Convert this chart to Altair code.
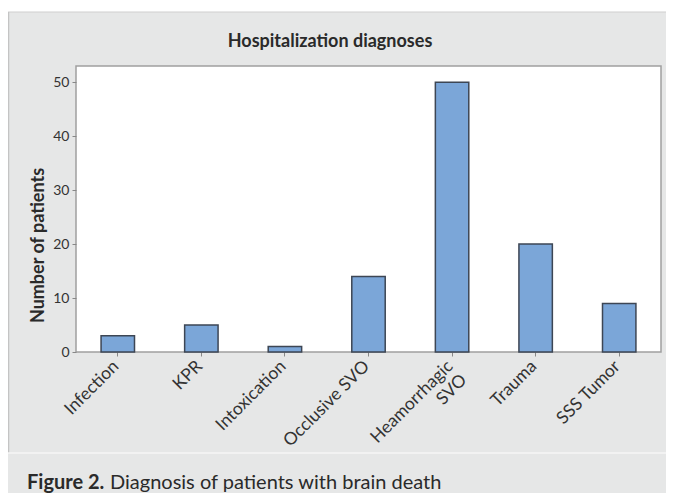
import altair as alt
import pandas as pd

categories = ["Infection", "KPR", "Intoxication", "Occlusive SVO",
              "Heamorrhagic SVO", "Trauma", "SSS Tumor"]
patients = [3, 5, 1, 14, 50, 20, 9]
y_ticks = [0, 10, 20, 30, 40, 50]
chart_title = ["Hospitalization diagnoses"]
y_title = "Number of patients"
caption_bold = ["Figure 2."]
caption_text = ["Diagnosis of patients with brain death"]

df = pd.DataFrame({"diagnosis": categories, "patients": patients})

FONT = "Lato, Open Sans, sans-serif"
TXT = "#2a2a2a"

bars = alt.Chart(df).mark_bar(
    color="#7BA6D8", stroke="#3d4654", strokeWidth=1.5
).encode(
    x=alt.X(
        "diagnosis:N", sort=categories,
        scale=alt.Scale(paddingInner=0.6, paddingOuter=0.3),
        axis=alt.Axis(
            title=None, labelAngle=-45, labelFontSize=17.5, labelColor="#333",
            labelFont=FONT, tickColor="#888", tickSize=4, domain=False,
            labelPadding=1, labelOffset=-8,
            labelExpr="datum.label == 'Heamorrhagic SVO' ? ['Heamorrhagic', 'SVO'] : datum.label",
        ),
    ),
    y=alt.Y(
        "patients:Q",
        scale=alt.Scale(domain=[0, 53], nice=False),
        axis=alt.Axis(
            values=y_ticks, grid=False, domain=False, tickColor="#888", tickSize=4,
            labelFont=FONT, labelFontSize=14, labelColor="#333", labelPadding=3,
            title=y_title, titleFont=FONT, titleFontSize=18, titleFontWeight="bold",
            titleColor=TXT, titleX=-38, titleY=179, titleAngle=-90,
            titleAlign="center", titleBaseline="middle",
        ),
    ),
)

one = pd.DataFrame({"k": [0]})

# panel decorations (top white strip, panel edges, caption separator)
strip = alt.Chart(one).mark_rect(color="white").encode(
    x=alt.value(-68), x2=alt.value(600), y=alt.value(-58), y2=alt.value(-54)
)
top_line = alt.Chart(one).mark_rule(color="#cfcfcf", strokeWidth=1).encode(
    x=alt.value(-68), x2=alt.value(600), y=alt.value(-54)
)
left_line = alt.Chart(one).mark_rule(color="#c4c4c4", strokeWidth=1.5).encode(
    x=alt.value(-67.5), y=alt.value(-54), y2=alt.value(387)
)
sep_line = alt.Chart(one).mark_rule(color="#f6f6f6", strokeWidth=1.5).encode(
    x=alt.value(-68), x2=alt.value(600), y=alt.value(387)
)

title = alt.Chart(pd.DataFrame({"t": chart_title})).mark_text(
    align="center", baseline="middle", font=FONT, fontSize=18, fontWeight="bold", color=TXT
).encode(x=alt.value(254), y=alt.value(-24), text="t:N")

cap1 = alt.Chart(pd.DataFrame({"t": caption_bold})).mark_text(
    align="left", baseline="alphabetic", font=FONT, fontSize=20, fontWeight="bold", color=TXT
).encode(x=alt.value(-49), y=alt.value(423), text="t:N")
cap2 = alt.Chart(pd.DataFrame({"t": caption_text})).mark_text(
    align="left", baseline="alphabetic", font=FONT, fontSize=20, color=TXT
).encode(x=alt.value(34), y=alt.value(423), text="t:N")

chart = alt.layer(strip, top_line, left_line, sep_line, bars, title, cap1, cap2).properties(
    width=585, height=286,
    padding={"left": 68, "top": 58, "right": 5, "bottom": 141},
    autosize=alt.AutoSizeParams(type="none"),
    background="#e6e7e7",
).configure_view(
    stroke="#a0a0a0", strokeWidth=1.5, fill="white"
)

chart.save("out.html", embed_options={"renderer": "svg", "actions": False})
